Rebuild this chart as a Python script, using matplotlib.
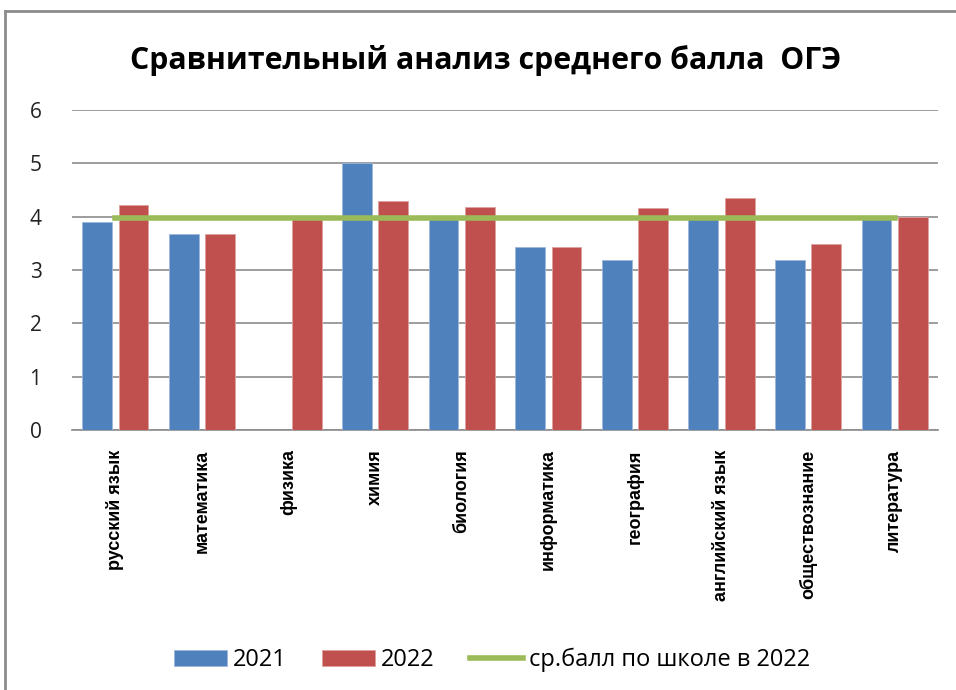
import matplotlib
matplotlib.use("Agg")
import matplotlib.pyplot as plt
import numpy as np
from matplotlib.lines import Line2D

categories = ["русский язык", "математика", "физика", "химия", "биология",
              "информатика", "география", "английский язык", "обществознание", "литература"]
y2021 = [3.90, 3.68, 0, 5.00, 3.95, 3.44, 3.19, 3.95, 3.19, 3.95]
y2022 = [4.21, 3.68, 3.95, 4.30, 4.19, 3.44, 4.16, 4.35, 3.48, 4.00]
school_avg = [3.97] * 10
yticks = [0, 1, 2, 3, 4, 5, 6]

W, H = 956, 690
fig = plt.figure(figsize=(W / 100, H / 100), dpi=100)
ax = fig.add_axes([72 / W, 1 - 430 / H, (938 - 72) / W, (430 - 110) / H])

x = np.arange(len(categories))
bw = 0.345
b1 = ax.bar(x - 0.21, y2021, bw, color="#4F81BD", edgecolor="#9DB6DB", linewidth=0.6, label="2021", zorder=3)
b2 = ax.bar(x + 0.21, y2022, bw, color="#C0504D", edgecolor="#DDA09E", linewidth=0.6, label="2022", zorder=3)
l1, = ax.plot(x, school_avg, color="#9BBB59", linewidth=4, label="ср.балл по школе в 2022", zorder=4)

ax.set_xlim(-0.5, len(categories) - 0.5)
ax.set_ylim(0, 6)
ax.set_yticks(yticks)
ax.set_yticklabels([str(t) for t in yticks], fontsize=15, family="Open Sans", color="#222222")
ax.yaxis.grid(True, color="#8C8C8C", linewidth=1.2, zorder=0)
ax.set_axisbelow(True)
for s in ["left", "right", "top"]:
    ax.spines[s].set_visible(False)
ax.spines["bottom"].set_color("#8C8C8C")
ax.spines["bottom"].set_linewidth(1.2)
ax.tick_params(axis="both", length=0)
ax.tick_params(axis="y", pad=22)
ax.set_xticks(x)
ax.set_xticklabels(categories, rotation=90, fontsize=13, fontweight="bold",
                   family="Liberation Sans", va="top")
ax.tick_params(axis="x", pad=14)

fig.text(486 / W, 1 - 60 / H, "Сравнительный анализ среднего балла  ОГЭ", ha="center", va="center",
         fontsize=21.8, fontweight="bold", family="Open Sans")

leg = fig.legend([b1, b2, l1], ["2021", "2022", "ср.балл по школе в 2022"],
                 loc="center", bbox_to_anchor=(492 / W, 1 - 660 / H), ncol=3, frameon=False,
                 prop={"family": "Open Sans", "size": 17}, handlelength=2.25, handleheight=0.7,
                 columnspacing=1.5, handletextpad=0.25)

fig.add_artist(Line2D([5 / W, 5 / W], [0, 1 - 11 / H], transform=fig.transFigure, color="#8C8C8C", linewidth=2))
fig.add_artist(Line2D([5 / W, 1], [1 - 11 / H, 1 - 11 / H], transform=fig.transFigure, color="#8C8C8C", linewidth=2))

fig.savefig("out.png", dpi=100, facecolor="white")
